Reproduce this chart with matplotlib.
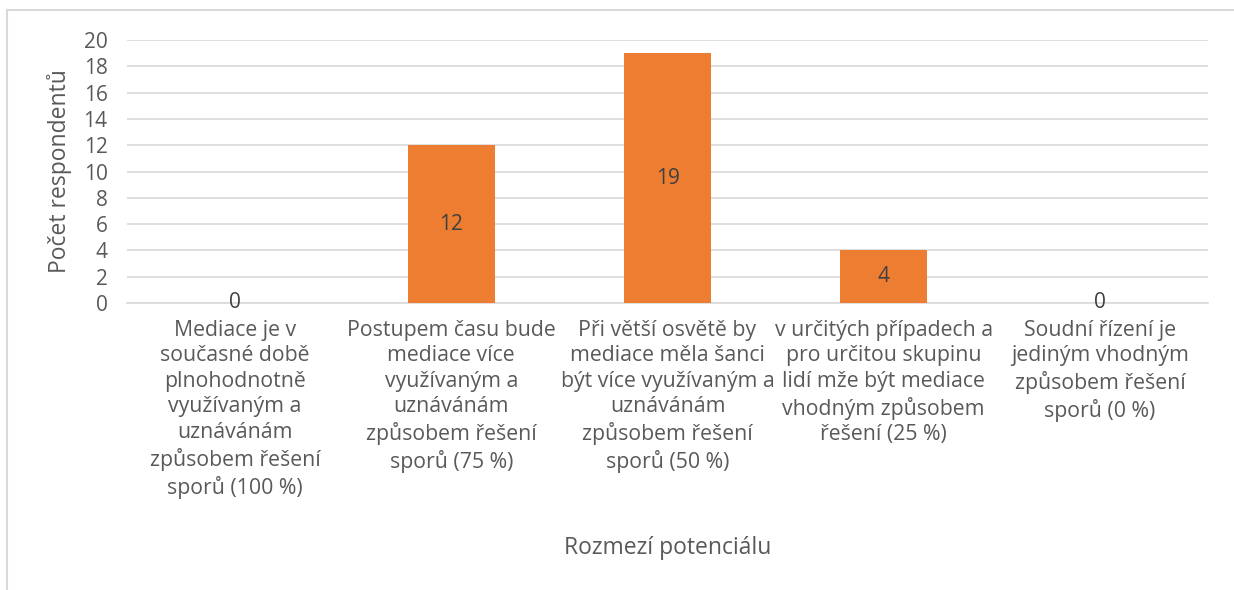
import numpy as np
import matplotlib.pyplot as plt
from matplotlib.lines import Line2D

# data
categories = [
    "Mediace je v\nsoučasné době\nplnohodnotně\nvyužívaným a\nuznávánám\nzpůsobem řešení\nsporů (100 %)",
    "Postupem času bude\nmediace více\nvyužívaným a\nuznávánám\nzpůsobem řešení\nsporů (75 %)",
    "Při větší osvětě by\nmediace měla šanci\nbýt více využívaným a\nuznávánám\nzpůsobem řešení\nsporů (50 %)",
    "v určitých případech a\npro určitou skupinu\nlidí mže být mediace\nvhodným způsobem\nřešení (25 %)",
    "Soudní řízení je\njediným vhodným\nzpůsobem řešení\nsporů (0 %)",
]
counts = [0, 12, 19, 4, 0]
y_ticks = list(range(0, 21, 2))

txt = '#595959'
grid = '#D9D9D9'
plt.rcParams['font.family'] = ['Open Sans', 'DejaVu Sans']

fig = plt.figure(figsize=(12.34, 5.9), dpi=100)
ax = fig.add_axes([127/1234, 1-303/590, (1208-127)/1234, 263/590])

x = np.arange(len(categories))
bars = ax.bar(x, counts, width=0.4, color='#ED7D31', zorder=3)
ax.bar_label(bars, label_type='center', fontsize=15, color='#404040')

ax.set_xlim(-0.5, len(categories)-0.5)
ax.set_ylim(0, 20)
ax.set_yticks(y_ticks)
ax.set_xticks(x)
ax.set_xticklabels(categories, fontsize=15.3, color=txt, linespacing=1.28)
ax.tick_params(axis='y', length=0, pad=14, labelsize=15, labelcolor=txt)
ax.tick_params(axis='x', length=0, pad=12)
ax.grid(axis='y', color=grid, lw=1.2, zorder=0)
for s in ['top', 'right', 'left']:
    ax.spines[s].set_visible(False)
ax.spines['bottom'].set_color(grid)
ax.spines['bottom'].set_linewidth(1.2)

ax.set_ylabel('Počet respondentů', fontsize=16.5, color=txt, va='center', ha='center')
ax.yaxis.set_label_coords((60-127)/1081, 0.5)
ax.set_xlabel('Rozmezí potenciálu', fontsize=16.5, color=txt, va='center', ha='center')
ax.xaxis.set_label_coords(0.5, (303-548)/263)

# chart frame
fig.add_artist(Line2D([7/1234, 7/1234], [0, 1-10/590], color=grid, lw=1.5))
fig.add_artist(Line2D([7/1234, 1], [1-10/590, 1-10/590], color=grid, lw=1.5))

plt.savefig('out.png', dpi=100)
